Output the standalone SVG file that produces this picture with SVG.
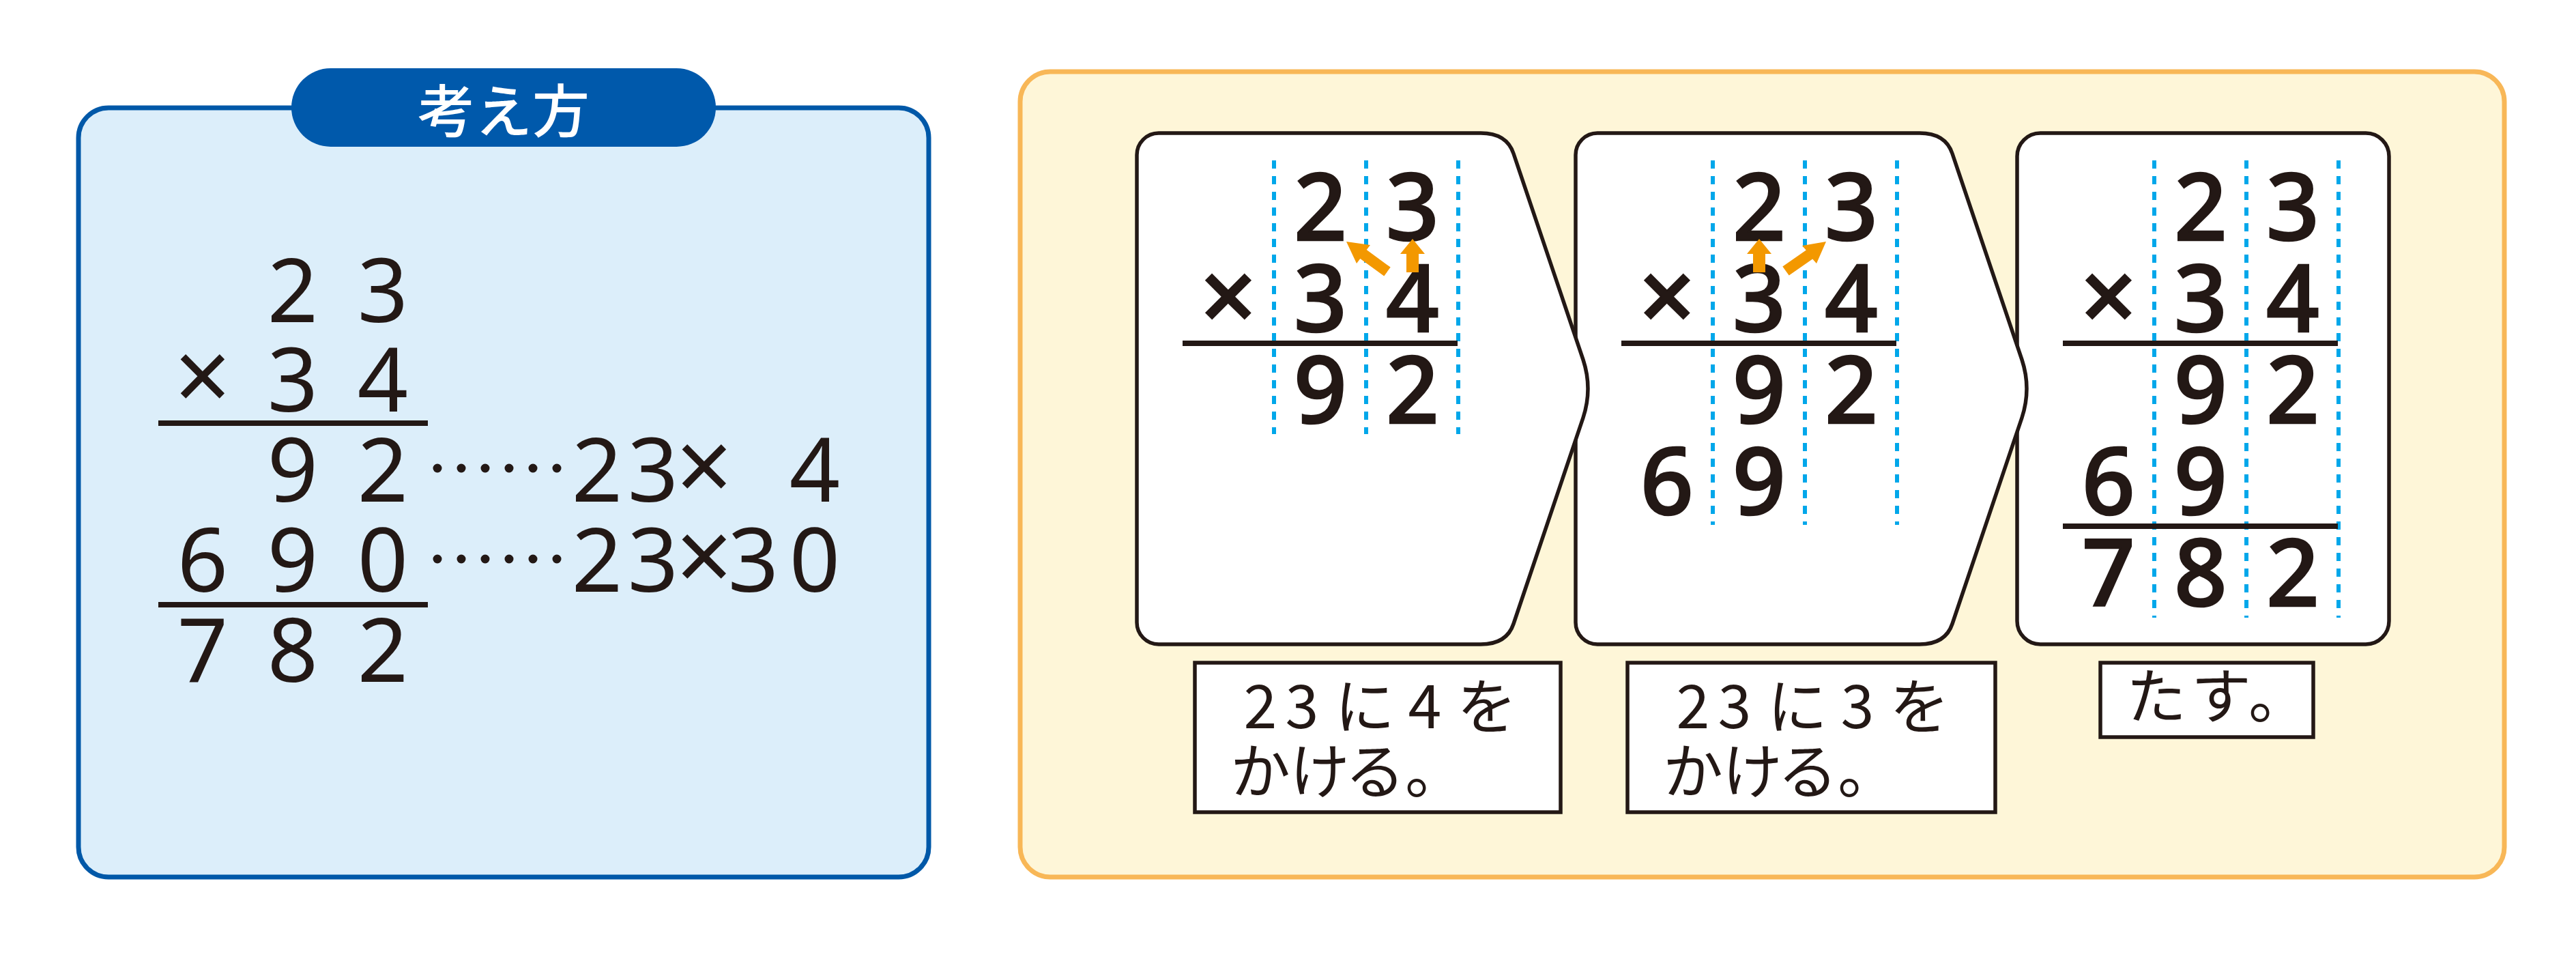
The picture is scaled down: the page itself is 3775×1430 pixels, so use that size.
<svg xmlns="http://www.w3.org/2000/svg" width="3775" height="1430" viewBox="0 0 3775 1430">
<defs>
<style>
.dg{font-family:"Noto Sans","DejaVu Sans",sans-serif;font-size:130px;fill:#231815;text-anchor:middle}
.cd{font-family:"Noto Sans","DejaVu Sans",sans-serif;font-size:136px;font-weight:500;fill:#231815;stroke:#231815;stroke-width:2.5;text-anchor:middle}
.mx{font-size:146px}
.jp{font-family:"Noto Sans CJK JP","Noto Sans",sans-serif;font-size:88px;fill:#231815;text-anchor:middle}
.rule{stroke:#231815;stroke-width:8}
.dash{stroke:#00A7EA;stroke-width:6;stroke-dasharray:12 11}
.card{fill:#fff;stroke:#231815;stroke-width:5.5;stroke-linejoin:round}
.lbl{fill:#fff;stroke:#231815;stroke-width:5.5}
.arr{fill:#F39800}
.dot{fill:#231815}
</style>
</defs>
<rect width="3775" height="1430" fill="#fff"/>

<g id="thinking">
<rect x="115" y="158" width="1246" height="1127" rx="44" fill="#DCEEFA" stroke="#0058A8" stroke-width="7"/>
<rect x="427" y="100" width="622" height="115" rx="57.5" fill="#0059AB"/>
<text x="738" y="194" font-family="'Noto Sans CJK JP',sans-serif" font-size="84" font-weight="500" fill="#fff" text-anchor="middle">考え方</text>
<text class="dg" x="429" y="472">2</text><text class="dg" x="561" y="472">3</text>
<text class="dg mx" x="297" y="603">×</text><text class="dg" x="429" y="603">3</text><text class="dg" x="561" y="603">4</text>
<line class="rule" x1="232" y1="620" x2="627" y2="620"/>
<text class="dg" x="429" y="735">9</text><text class="dg" x="561" y="735">2</text>
<text class="dg" x="297" y="867">6</text><text class="dg" x="429" y="867">9</text><text class="dg" x="561" y="867">0</text>
<line class="rule" x1="232" y1="886" x2="627" y2="886"/>
<text class="dg" x="297" y="999">7</text><text class="dg" x="429" y="999">8</text><text class="dg" x="561" y="999">2</text>
<circle class="dot" cx="641" cy="686" r="6.5"/><circle class="dot" cx="676" cy="686" r="6.5"/><circle class="dot" cx="711" cy="686" r="6.5"/><circle class="dot" cx="746" cy="686" r="6.5"/><circle class="dot" cx="781" cy="686" r="6.5"/><circle class="dot" cx="816" cy="686" r="6.5"/>
<circle class="dot" cx="641" cy="819" r="6.5"/><circle class="dot" cx="676" cy="819" r="6.5"/><circle class="dot" cx="711" cy="819" r="6.5"/><circle class="dot" cx="746" cy="819" r="6.5"/><circle class="dot" cx="781" cy="819" r="6.5"/><circle class="dot" cx="816" cy="819" r="6.5"/>
<text class="dg" x="875" y="735">2</text><text class="dg" x="957" y="735">3</text><text class="dg mx" x="1032" y="735">×</text><text class="dg" x="1194" y="735">4</text>
<text class="dg" x="875" y="867">2</text><text class="dg" x="957" y="867">3</text><text class="dg mx" x="1032" y="867">×</text><text class="dg" x="1104" y="867">3</text><text class="dg" x="1194" y="867">0</text>
</g>

<g id="steps-panel">
<rect x="1495" y="105" width="2175" height="1180" rx="44" fill="#FEF6D8" stroke="#F8B757" stroke-width="7"/>
</g>

<g id="card3">
<rect class="card" x="2956" y="195" width="545" height="749" rx="34"/>
<line class="dash" x1="3157" y1="235" x2="3157" y2="905"/><line class="dash" x1="3292" y1="235" x2="3292" y2="905"/><line class="dash" x1="3427" y1="235" x2="3427" y2="905"/>
<text class="cd" x="3225" y="352">2</text><text class="cd" x="3360" y="352">3</text>
<text class="cd mx" x="3090" y="486">×</text><text class="cd" x="3225" y="486">3</text><text class="cd" x="3360" y="486">4</text>
<line class="rule" x1="3023" y1="503" x2="3426" y2="503"/>
<text class="cd" x="3225" y="620">9</text><text class="cd" x="3360" y="620">2</text>
<text class="cd" x="3090" y="754">6</text><text class="cd" x="3225" y="754">9</text>
<line class="rule" x1="3023" y1="771" x2="3426" y2="771"/>
<text class="cd" x="3090" y="888">7</text><text class="cd" x="3225" y="888">8</text><text class="cd" x="3360" y="888">2</text>
</g>

<g id="card2">
<path class="card" d="M2341,195 H2813 Q2851,195 2861,225 L2963,527 Q2977,569.5 2963,612 L2861,914 Q2851,944 2813,944 H2341 A32,32 0 0 1 2309,912 V227 A32,32 0 0 1 2341,195 Z"/>
<line class="dash" x1="2510" y1="235" x2="2510" y2="769"/><line class="dash" x1="2645" y1="235" x2="2645" y2="769"/><line class="dash" x1="2780" y1="235" x2="2780" y2="769"/>
<text class="cd" x="2578" y="352">2</text><text class="cd" x="2713" y="352">3</text>
<text class="cd mx" x="2443" y="486">×</text><text class="cd" x="2578" y="486">3</text><text class="cd" x="2713" y="486">4</text>
<line class="rule" x1="2376" y1="503" x2="2779" y2="503"/>
<text class="cd" x="2578" y="620">9</text><text class="cd" x="2713" y="620">2</text>
<text class="cd" x="2443" y="754">6</text><text class="cd" x="2578" y="754">9</text>
</g>

<g id="card1">
<path class="card" d="M1698,195 H2170 Q2208,195 2218,225 L2320,527 Q2334,569.5 2320,612 L2218,914 Q2208,944 2170,944 H1698 A32,32 0 0 1 1666,912 V227 A32,32 0 0 1 1698,195 Z"/>
<line class="dash" x1="1867" y1="235" x2="1867" y2="636"/><line class="dash" x1="2002" y1="235" x2="2002" y2="636"/><line class="dash" x1="2137" y1="235" x2="2137" y2="636"/>
<text class="cd" x="1935" y="352">2</text><text class="cd" x="2070" y="352">3</text>
<text class="cd mx" x="1800" y="486">×</text><text class="cd" x="1935" y="486">3</text><text class="cd" x="2070" y="486">4</text>
<line class="rule" x1="1733" y1="503" x2="2136" y2="503"/>
<text class="cd" x="1935" y="620">9</text><text class="cd" x="2070" y="620">2</text>
</g>

<g id="connectors">
<polygon class="arr" points="2061,399 2061,372 2052,372 2070,350 2088,372 2079,372 2079,399"/>
<polygon class="arr" points="2037.7,391.6 2002.7,366.1 2008,359 1973,354 1988,386 1993.3,378.9 2028.3,404.4"/>
<polygon class="arr" points="2569,399 2569,372 2560,372 2578,350 2596,372 2587,372 2587,399"/>
<polygon class="arr" points="2621.7,403.5 2656.2,379.5 2662,386 2676,354 2641,360 2646.8,366.5 2612.3,390.5"/>
</g>

<g id="label1">
<rect class="lbl" x="1751" y="971" width="536" height="219"/>
<text class="jp" x="1847" y="1067">2</text><text class="jp" x="1908" y="1067">3</text><text class="jp" x="2000" y="1067">に</text><text class="jp" x="2088" y="1067">4</text><text class="jp" x="2179" y="1067">を</text>
<text class="jp" x="1847" y="1162">か</text><text class="jp" x="1934" y="1162">け</text><text class="jp" x="2015" y="1162">る</text><text class="jp" x="2103" y="1162">。</text>
</g>

<g id="label2">
<rect class="lbl" x="2385" y="971" width="539" height="219"/>
<text class="jp" x="2481" y="1067">2</text><text class="jp" x="2542" y="1067">3</text><text class="jp" x="2634" y="1067">に</text><text class="jp" x="2722" y="1067">3</text><text class="jp" x="2813" y="1067">を</text>
<text class="jp" x="2481" y="1162">か</text><text class="jp" x="2568" y="1162">け</text><text class="jp" x="2649" y="1162">る</text><text class="jp" x="2737" y="1162">。</text>
</g>

<g id="label3">
<rect class="lbl" x="3078" y="971" width="312" height="109"/>
<text class="jp" x="3160" y="1052">た</text><text class="jp" x="3255" y="1052">す</text><text class="jp" x="3339" y="1052">。</text>
</g>
</svg>
